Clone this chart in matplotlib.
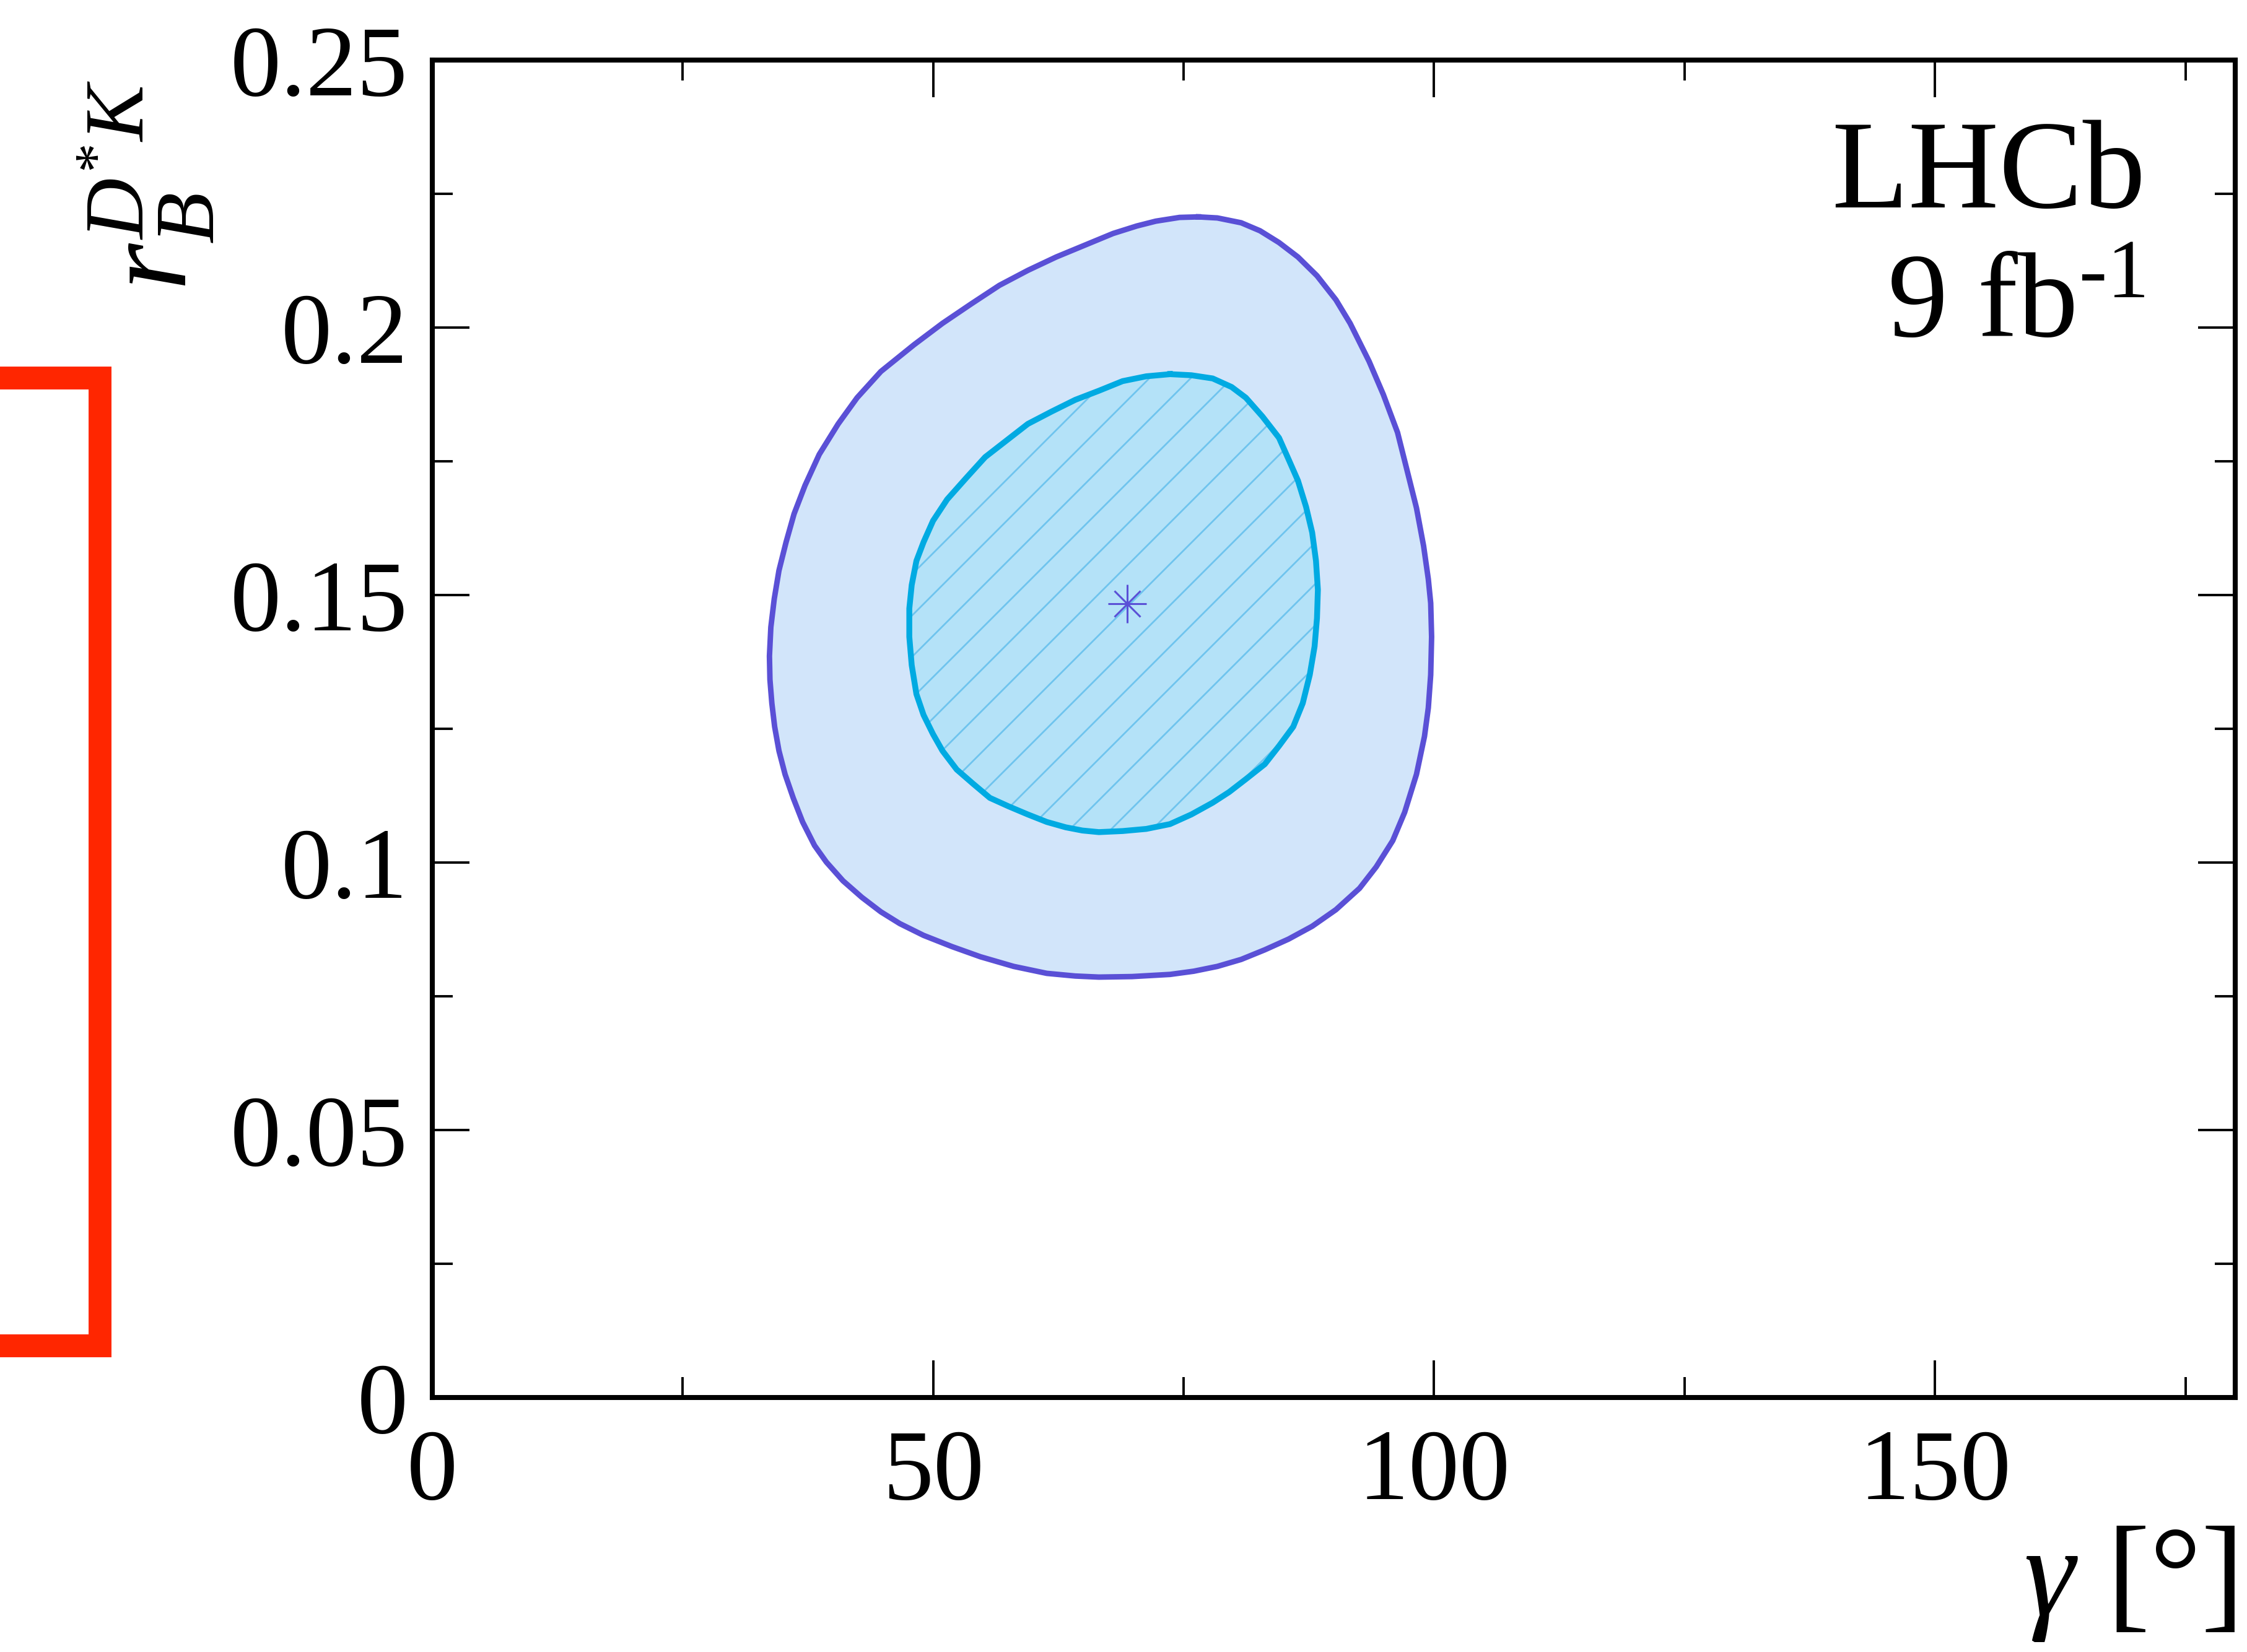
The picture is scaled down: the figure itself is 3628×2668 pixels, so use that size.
import matplotlib

matplotlib.use('Agg')
import matplotlib.pyplot as plt
import matplotlib.ticker as ticker
from matplotlib.lines import Line2D

# Serif look for all text, math in the same family
plt.rcParams['font.family'] = ['Liberation Serif', 'DejaVu Serif']
plt.rcParams['mathtext.fontset'] = 'custom'
plt.rcParams['mathtext.rm'] = 'Liberation Serif'
plt.rcParams['mathtext.it'] = 'Liberation Serif:italic'
plt.rcParams['mathtext.bf'] = 'Liberation Serif:bold'
plt.rcParams['hatch.linewidth'] = 1.0

# 95% CL contour (gamma [deg], r_B)
outer_gamma = [76.49, 78.38, 80.75, 82.64, 84.53, 86.42, 88.32, 90.21, 91.63, 93.52, 94.94,
               96.36, 97.30, 98.25, 98.96, 99.43, 99.67, 99.76, 99.67, 99.43, 99.05, 98.25,
               97.07, 95.88, 94.23, 92.57, 90.21, 87.84, 85.48, 83.11, 80.75, 78.38, 76.02,
               73.65, 69.86, 66.55, 64.19, 61.35, 58.04, 54.73, 51.89, 49.05, 46.68, 44.79,
               42.90, 41.01, 39.35, 38.17, 36.98, 36.04, 35.23, 34.62, 34.19, 33.91, 33.72,
               33.67, 33.81, 34.15, 34.62, 35.33, 36.13, 37.22, 38.64, 40.53, 42.42, 44.79,
               48.10, 50.94, 53.78, 56.62, 59.46, 62.29, 65.13, 67.97, 70.34, 72.23, 74.60]
outer_r = [0.2207, 0.2205, 0.2196, 0.2181, 0.2159, 0.2132, 0.2097, 0.2052, 0.2008, 0.1937,
           0.1875, 0.1804, 0.1734, 0.1663, 0.1592, 0.1530, 0.1485, 0.1422, 0.1351, 0.1289,
           0.1236, 0.1165, 0.1094, 0.1041, 0.0992, 0.0952, 0.0912, 0.0881, 0.0857, 0.0837,
           0.0819, 0.0806, 0.0797, 0.0791, 0.0787, 0.0786, 0.0788, 0.0793, 0.0806, 0.0824,
           0.0843, 0.0864, 0.0886, 0.0908, 0.0935, 0.0966, 0.1001, 0.1032, 0.1076, 0.1121,
           0.1165, 0.1209, 0.1254, 0.1298, 0.1342, 0.1386, 0.1440, 0.1493, 0.1546, 0.1599,
           0.1652, 0.1705, 0.1763, 0.1820, 0.1869, 0.1918, 0.1968, 0.2008, 0.2044, 0.2079,
           0.2107, 0.2132, 0.2154, 0.2176, 0.2190, 0.2199, 0.2206]

# 68% CL contour
inner_gamma = [73.65, 75.78, 77.91, 79.80, 81.22, 82.87, 84.53, 85.48, 86.42, 87.23, 87.84,
               88.22, 88.41, 88.32, 88.08, 87.60, 86.90, 85.95, 84.53, 83.11, 81.22, 79.56,
               77.91, 75.78, 73.65, 71.28, 68.92, 66.55, 64.90, 63.24, 61.35, 59.46, 57.56,
               55.67, 54.02, 52.36, 50.94, 50.00, 49.05, 48.34, 47.87, 47.63, 47.63, 47.87,
               48.34, 49.05, 50.00, 51.41, 53.31, 55.20, 57.33, 59.46, 61.82, 64.19, 66.55,
               68.92, 71.28]
inner_r = [0.1913, 0.1911, 0.1905, 0.1889, 0.1869, 0.1834, 0.1794, 0.1754, 0.1714, 0.1665,
           0.1617, 0.1564, 0.1510, 0.1457, 0.1404, 0.1351, 0.1298, 0.1254, 0.1218, 0.1184,
           0.1156, 0.1132, 0.1112, 0.1090, 0.1072, 0.1063, 0.1059, 0.1057, 0.1060, 0.1066,
           0.1076, 0.1090, 0.1105, 0.1121, 0.1147, 0.1174, 0.1209, 0.1240, 0.1276, 0.1315,
           0.1369, 0.1422, 0.1475, 0.1519, 0.1564, 0.1599, 0.1639, 0.1679, 0.1719, 0.1758,
           0.1789, 0.1820, 0.1843, 0.1865, 0.1882, 0.1900, 0.1909]

# best-fit point
best_gamma = 69.4
best_r = 0.1484

x_ticks = [0, 50, 100, 150]
y_ticks = [0, 0.05, 0.1, 0.15, 0.2, 0.25]

fig = plt.figure(figsize=(18.14, 13.34), dpi=200)
ax = fig.add_axes([0.1923, 0.1540, 0.8026, 0.8096])

ax.fill(outer_gamma, outer_r, facecolor='#d2e5fa', edgecolor='none', zorder=1)
ax.plot(outer_gamma + outer_gamma[:1], outer_r + outer_r[:1], color='#5a50d6', lw=3.2,
        solid_joinstyle='round', zorder=4)
ax.fill(inner_gamma, inner_r, facecolor='#b4e2f8', edgecolor='#6fc4ee', hatch='/',
        linewidth=0, zorder=2)
ax.plot(inner_gamma + inner_gamma[:1], inner_r + inner_r[:1], color='#00aae2', lw=3.4,
        solid_joinstyle='round', zorder=4)

# asterisk marker: plus + cross
ax.plot(best_gamma, best_r, marker='+', ms=22, mew=1.1, color='#5a50d6', zorder=5)
ax.plot(best_gamma, best_r, marker='x', ms=15, mew=1.1, color='#5a50d6', zorder=5)

ax.set_xlim(0, 180)
ax.set_ylim(0, 0.25)
ax.xaxis.set_major_locator(ticker.FixedLocator(x_ticks))
ax.xaxis.set_minor_locator(ticker.MultipleLocator(25))
ax.yaxis.set_major_locator(ticker.FixedLocator(y_ticks))
ax.yaxis.set_minor_locator(ticker.MultipleLocator(0.025))
ax.yaxis.set_major_formatter(ticker.FuncFormatter(lambda v, p: '%g' % v))
ax.xaxis.set_major_formatter(ticker.FuncFormatter(lambda v, p: '%g' % v))

ax.tick_params(which='both', direction='in', top=True, right=True, width=1.4)
ax.tick_params(which='major', length=21.6, labelsize=59)
ax.tick_params(which='minor', length=12)
ax.tick_params(axis='x', which='major', pad=18)
ax.tick_params(axis='y', which='major', pad=14)
for s in ax.spines.values():
    s.set_linewidth(2.9)

ax.set_xlabel(r'$\gamma$ [°]', fontsize=75, loc='right')
ax.xaxis.set_label_coords(1.0, -0.095)
ax.xaxis.label.set_va('top')
ax.set_ylabel(r'$r_{B}^{D^{*}K}$', fontsize=70, loc='top')
ax.yaxis.set_label_coords(-0.12, 0.985)

ax.text(0.95, 0.89, 'LHCb', transform=ax.transAxes, ha='right', va='baseline', fontsize=73)
ax.text(0.95, 0.793, r'9 fb$^{\text{-}1}$', transform=ax.transAxes, ha='right',
        va='baseline', fontsize=70)

# red frame on the left margin
fig.add_artist(Line2D([-0.02, 0.04451, 0.04451, -0.02], [0.7712, 0.7712, 0.18535, 0.18535],
                      transform=fig.transFigure, color='#ff2600', lw=13.3,
                      solid_joinstyle='miter', solid_capstyle='butt'))

fig.savefig('out.png', dpi=200)
plt.close(fig)
